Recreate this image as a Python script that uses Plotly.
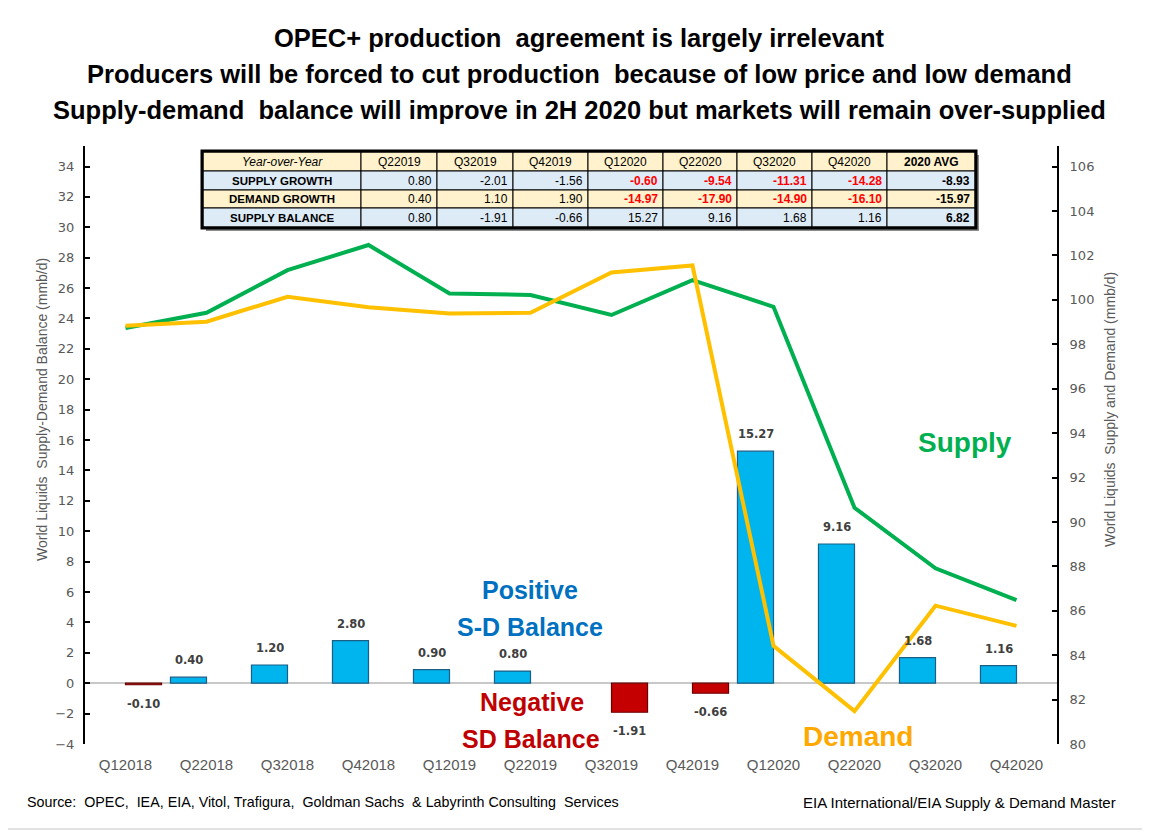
import plotly.graph_objects as go

# ---------------- data ----------------
quarters = ["Q12018", "Q22018", "Q32018", "Q42018", "Q12019", "Q22019",
            "Q32019", "Q42019", "Q12020", "Q22020", "Q32020", "Q42020"]
balance = [-0.10, 0.40, 1.20, 2.80, 0.90, 0.80, -1.91, -0.66, 15.27, 9.16, 1.68, 1.16]
supply = [98.73, 99.42, 101.34, 102.47, 100.29, 100.22, 99.32, 100.89, 99.69, 90.64, 87.91, 86.48]
demand = [98.83, 99.02, 100.14, 99.67, 99.39, 99.42, 101.23, 101.55, 84.42, 81.48, 86.23, 85.32]

table_header = ["Year-over-Year", "Q22019", "Q32019", "Q42019", "Q12020",
                "Q22020", "Q32020", "Q42020", "2020 AVG"]
table_rows = ["SUPPLY GROWTH", "DEMAND GROWTH", "SUPPLY BALANCE"]
supply_growth = [0.80, -2.01, -1.56, -0.60, -9.54, -11.31, -14.28, -8.93]
demand_growth = [0.40, 1.10, 1.90, -14.97, -17.90, -14.90, -16.10, -15.97]
supply_balance = [0.80, -1.91, -0.66, 15.27, 9.16, 1.68, 1.16, 6.82]

left_ticks = list(range(-4, 35, 2))
right_ticks = list(range(80, 107, 2))

# ---------------- geometry helpers (page pixel -> paper) ----------------
OFF = 8                      # page body margin
W, H = 1142, 826             # figure size
PL, PR, PT, PB = 85, 1057, 146, 744   # plot area in page pixels
ML, MT = PL - OFF, PT - OFF
MR, MB = W - (PR - OFF), H - (PB - OFF)
PW, PH = PR - PL, PB - PT


def px(x):
    return (x - PL) / PW


def py(y):
    return (PB - y) / PH


SANS = "Liberation Sans, Arial, sans-serif"
VERD = "DejaVu Sans, Verdana, sans-serif"

pos_vals = [v if v > 0 else None for v in balance]
neg_vals = [v if v < 0 else None for v in balance]

fig = go.Figure()

fig.add_trace(go.Bar(
    x=quarters, y=pos_vals, name="Positive S-D Balance",
    marker=dict(color="#00B4EE", line=dict(color="#1B5F86", width=1.2)),
    yaxis="y", showlegend=False, hoverinfo="x+y",
))
fig.add_trace(go.Bar(
    x=quarters, y=neg_vals, name="Negative SD Balance",
    marker=dict(color="#C50000", line=dict(color="#6A0000", width=1.2)),
    yaxis="y", showlegend=False, hoverinfo="x+y",
))
fig.add_trace(go.Scatter(
    x=quarters, y=supply, mode="lines", name="Supply",
    line=dict(color="#00B050", width=4), yaxis="y2", showlegend=False,
))
fig.add_trace(go.Scatter(
    x=quarters, y=demand, mode="lines", name="Demand",
    line=dict(color="#FFC000", width=4), yaxis="y2", showlegend=False,
))

ann = []
shapes = []

# ---------------- table (drawn as shapes + text) ----------------
col_edges = [203, 361, 437, 513, 588, 663, 737, 812, 887, 975]
row_edges = [152, 171, 190, 208, 227]
row_fill = ["#FFF2CC", "#DDEBF7", "#FFF2CC", "#DDEBF7"]

# shadow + outer frame
shapes.append(dict(type="rect", xref="paper", yref="paper",
                   x0=px(col_edges[0] + 3), x1=px(col_edges[-1] + 4),
                   y0=py(row_edges[-1] + 4), y1=py(row_edges[0] + 3),
                   line=dict(width=0), fillcolor="#8C8C8C", layer="above"))
for r in range(4):
    for c in range(9):
        shapes.append(dict(type="rect", xref="paper", yref="paper",
                           x0=px(col_edges[c]), x1=px(col_edges[c + 1]),
                           y0=py(row_edges[r + 1]), y1=py(row_edges[r]),
                           line=dict(color="black", width=1),
                           fillcolor=row_fill[r], layer="above"))
shapes.append(dict(type="rect", xref="paper", yref="paper",
                   x0=px(col_edges[0] - 1), x1=px(col_edges[-1] + 1),
                   y0=py(row_edges[-1] + 1), y1=py(row_edges[0] - 1),
                   line=dict(color="black", width=3), layer="above"))


def cell_text(text, r, c, align, bold=False, italic=False, color="black", size=12):
    if bold:
        text = "<b>%s</b>" % text
    if italic:
        text = "<i>%s</i>" % text
    yc = (row_edges[r] + row_edges[r + 1]) / 2
    if align == "center":
        xx, xa = (col_edges[c] + col_edges[c + 1]) / 2, "center"
    else:
        xx, xa = col_edges[c + 1] - 3, "right"
    ann.append(dict(x=px(xx), y=py(yc), xref="paper", yref="paper", text=text,
                    showarrow=False, xanchor=xa, yanchor="middle",
                    font=dict(family=SANS, size=size, color=color)))


for c, h in enumerate(table_header):
    if c == 0:
        cell_text(h, 0, c, "center", italic=True)
    elif h == "2020 AVG":
        cell_text(h, 0, c, "center", bold=True)
    else:
        cell_text(h, 0, c, "center")

row_series = [supply_growth, demand_growth, supply_balance]
for r, (label, series) in enumerate(zip(table_rows, row_series), start=1):
    cell_text(label, r, 0, "center", bold=True, size=11.5)
    for ci, v in enumerate(series, start=1):
        col = table_header[ci]
        s = "%.2f" % v
        if col == "2020 AVG":
            cell_text(s, r, ci, "right", bold=True)
        elif col.endswith("2020") and v < 0:
            cell_text(s, r, ci, "right", bold=True, color="#FF0000")
        else:
            cell_text(s, r, ci, "right")

# ---------------- bar value labels ----------------
for q, v in zip(quarters, balance):
    if v > 0:
        ann.append(dict(x=q, y=v, xref="x", yref="y", text="<b>%.2f</b>" % v,
                        showarrow=False, xshift=-18, yshift=17, yanchor="middle",
                        font=dict(family=VERD, size=11.5, color="#404040")))
    else:
        ann.append(dict(x=q, y=v, xref="x", yref="y", text="<b>%.2f</b>" % v,
                        showarrow=False, xshift=18, yshift=-19, yanchor="middle",
                        font=dict(family=VERD, size=11.5, color="#404040")))

# ---------------- titles and text ----------------
titles = ["OPEC+ production  agreement is largely irrelevant",
          "Producers will be forced to cut production  because of low price and low demand",
          "Supply-demand  balance will improve in 2H 2020 but markets will remain over-supplied"]
for t, yy in zip(titles, [38, 74, 110]):
    ann.append(dict(x=px(579), y=py(yy), xref="paper", yref="paper", text="<b>%s</b>" % t,
                    showarrow=False, xanchor="center", yanchor="middle",
                    font=dict(family=SANS, size=25.5, color="black")))

callouts = [
    ("Supply", 965, 442, "#00B050", 28),
    ("Demand", 858, 736, "#FFA800", 28),
    ("Positive", 530, 590, "#0070C0", 25),
    ("S-D Balance", 530, 627, "#0070C0", 25),
    ("Negative", 532, 702, "#C00000", 25),
    ("SD Balance", 531, 739, "#C00000", 25),
]
for t, xx, yy, c, s in callouts:
    ann.append(dict(x=px(xx), y=py(yy), xref="paper", yref="paper", text="<b>%s</b>" % t,
                    showarrow=False, xanchor="center", yanchor="middle",
                    font=dict(family=SANS, size=s, color=c)))

ann.append(dict(x=px(42), y=py(410), xref="paper", yref="paper",
                text="World Liquids  Supply-Demand Balance (mmb/d)", textangle=-90,
                showarrow=False, xanchor="center", yanchor="middle",
                font=dict(family=SANS, size=14, color="#595959")))
ann.append(dict(x=px(1110), y=py(410), xref="paper", yref="paper",
                text="World Liquids  Supply and Demand (mmb/d)", textangle=-90,
                showarrow=False, xanchor="center", yanchor="middle",
                font=dict(family=SANS, size=14, color="#595959")))
ann.append(dict(x=px(25), y=py(802), xref="paper", yref="paper",
                text="Source:  OPEC,  IEA, EIA, Vitol, Trafigura,  Goldman Sachs  &amp; Labyrinth Consulting  Services",
                showarrow=False, xanchor="left", yanchor="middle",
                font=dict(family=SANS, size=14.3, color="black")))
ann.append(dict(x=px(1118), y=py(802), xref="paper", yref="paper",
                text="EIA International/EIA Supply &amp; Demand Master",
                showarrow=False, xanchor="right", yanchor="middle",
                font=dict(family=SANS, size=15, color="black")))

# outer chart border
shapes.insert(0, dict(type="rect", xref="paper", yref="paper", x0=px(5), x1=px(1143),
                      y0=py(829), y1=py(5), line=dict(color="#D9D9D9", width=1.5), layer="below"))

fig.update_layout(
    width=W, height=H,
    margin=dict(l=ML, r=MR, t=MT, b=MB, autoexpand=False),
    paper_bgcolor="white", plot_bgcolor="white",
    barmode="group", bargap=0.11, bargroupgap=0,
    showlegend=False,
    annotations=ann, shapes=shapes,
    xaxis=dict(type="category", range=[-0.5, 11.5], showline=False, ticks="",
               showgrid=False, zeroline=False, ticklabelstandoff=10,
               tickfont=dict(family=SANS, size=15, color="#595959")),
    yaxis=dict(range=[-4, 35.35], tickvals=left_ticks, ticks="inside", ticklen=5,
               tickcolor="black", tickwidth=1.5, showline=True, linecolor="black", linewidth=2,
               showgrid=False, zeroline=True, zerolinecolor="#C8C8C8", zerolinewidth=1.5,
               ticklabelstandoff=6,
               tickfont=dict(family=VERD, size=13, color="#595959")),
    yaxis2=dict(range=[80, 106.93], tickvals=right_ticks, overlaying="y", side="right",
                ticks="inside", ticklen=5, tickcolor="black", tickwidth=1.5,
                showline=True, linecolor="black", linewidth=2, showgrid=False, zeroline=False,
                ticklabelstandoff=8,
                tickfont=dict(family=VERD, size=13, color="#595959")),
)

fig.write_html("out.html")
